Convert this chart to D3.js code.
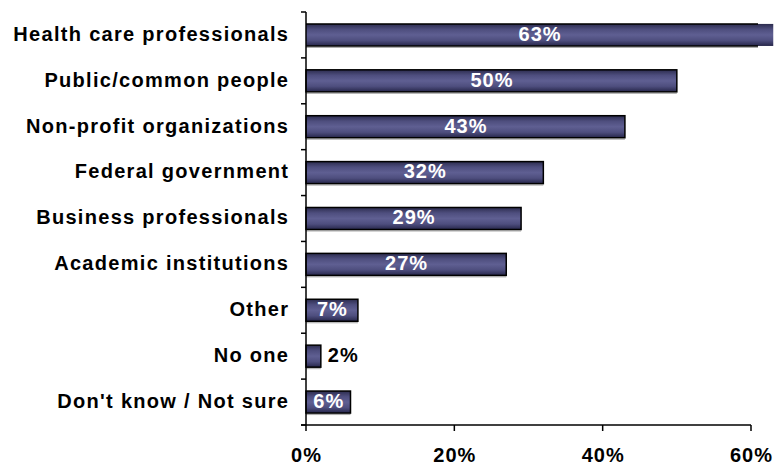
<!DOCTYPE html>
<html><head><meta charset="utf-8">
<script src="https://cdn.jsdelivr.net/npm/d3@7"></script>
<style>body{margin:0;background:#fff;overflow:hidden}svg{display:block}</style>
</head><body>
<script>
const categories = ["Health care professionals","Public/common people","Non-profit organizations","Federal government","Business professionals","Academic institutions","Other","No one","Don't know / Not sure"];
const values = [63,50,43,32,29,27,7,2,6];
const ticks = [0,20,40,60];

const W=776,H=466;
const FONT="Liberation Sans, Arial, sans-serif";
const svg=d3.select("body").append("svg").attr("width",W).attr("height",H);
const x=d3.scaleLinear().domain([0,60]).range([306,751]);
const y=d3.scaleBand().domain(categories).range([12,425]).paddingInner(0.52).paddingOuter(0.26);

const defs=svg.append("defs");
const g=defs.append("linearGradient").attr("id","bg").attr("x1",0).attr("y1",0).attr("x2",0).attr("y2",1);
[[0,"#2c2c4e"],[0.25,"#4e4e7e"],[0.5,"#5f5f92"],[0.75,"#4e4e7e"],[1,"#26264a"]].forEach(s=>g.append("stop").attr("offset",s[0]).attr("stop-color",s[1]));

const bars=svg.append("g");
categories.forEach((c,i)=>{
  const v=values[i], y0=y(c), h=y.bandwidth(), x1=x(v);
  bars.append("line").attr("x1",x(0)).attr("x2",Math.min(x1,758)).attr("y1",y0+h+1.5).attr("y2",y0+h+1.5).attr("stroke","#aaa").attr("stroke-width",1);
  bars.append("rect").attr("x",x(0)).attr("y",y0).attr("width",x1-x(0)).attr("height",h).attr("fill","url(#bg)");
  if(x1>758){
    bars.append("path").attr("d",`M${x(0)},${y0}H758M${x(0)},${y0+h}H758`).attr("stroke","#000").attr("stroke-width",1.5).attr("fill","none");
  } else {
    bars.append("rect").attr("x",x(0)).attr("y",y0).attr("width",x1-x(0)).attr("height",h).attr("fill","none").attr("stroke","#000").attr("stroke-width",1.5);
  }
  const inside = v>=5;
  bars.append("text").attr("x",inside?(x(0)+x1)/2+0.5:x1+7).attr("y",y0+h/2).attr("dy","0.29em")
    .attr("text-anchor",inside?"middle":"start").attr("fill",inside?"#fff":"#000")
    .attr("font-family",FONT).attr("font-weight","bold").attr("font-size",20).attr("letter-spacing","1px").text(v+"%");
});

// axes
const ax=svg.append("g");
ax.append("line").attr("x1",x(0)).attr("x2",x(0)).attr("y1",12).attr("y2",425).attr("stroke","#000").attr("stroke-width",1.5);
ax.append("line").attr("x1",x(0)-5).attr("x2",x(60)).attr("y1",425).attr("y2",425).attr("stroke","#000").attr("stroke-width",1.5);
d3.range(10).forEach(k=>{
  const yy=12+k*(413/9);
  ax.append("line").attr("x1",x(0)-5).attr("x2",x(0)).attr("y1",yy).attr("y2",yy).attr("stroke","#000").attr("stroke-width",1.5);
});
ticks.forEach(t=>{
  ax.append("line").attr("x1",x(t)).attr("x2",x(t)).attr("y1",425).attr("y2",431).attr("stroke","#000").attr("stroke-width",1.5);
  ax.append("text").attr("x",x(t)+0.5).attr("y",462).attr("text-anchor","middle")
    .attr("font-family",FONT).attr("font-weight","bold").attr("font-size",20).attr("letter-spacing","1px").text(t+"%");
});
categories.forEach(c=>{
  ax.append("text").attr("x",289.3).attr("y",y(c)+y.bandwidth()/2).attr("dy","0.29em").attr("text-anchor","end")
    .attr("font-family",FONT).attr("font-weight","bold").attr("font-size",20)
    .attr("letter-spacing","1.3px").text(c);
});
</script>
</body></html>
